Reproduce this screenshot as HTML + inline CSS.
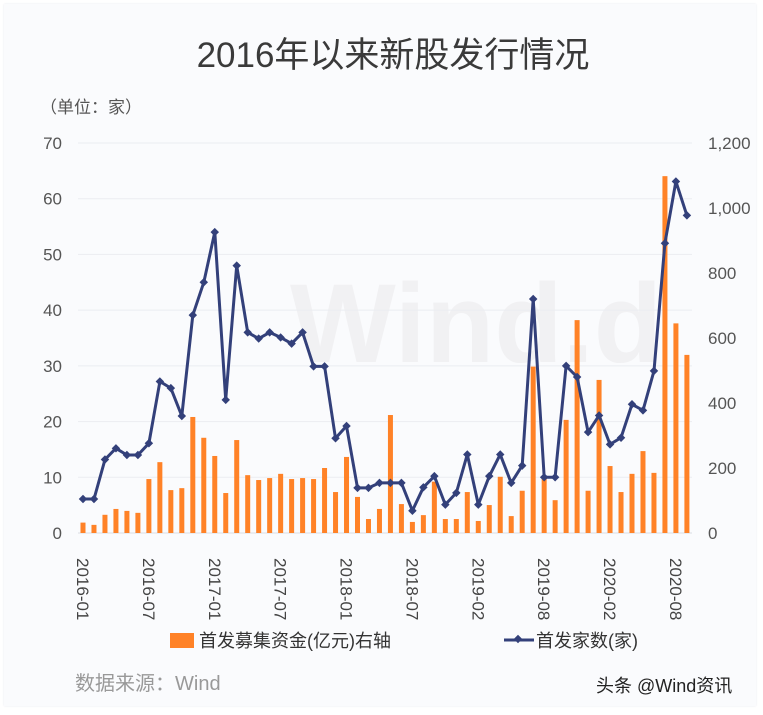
<!DOCTYPE html>
<html><head><meta charset="utf-8"><style>
html,body{margin:0;padding:0;background:#fff;}
body{width:763px;height:715px;position:relative;overflow:hidden;font-family:"Liberation Sans","Noto Sans CJK SC",sans-serif;}
.card{position:absolute;left:4px;top:4px;width:752px;height:702px;background:#fafbfd;box-shadow:0 0 2px #e6e8ee;}
</style></head><body>
<div class="card"></div>
<svg id="chart" width="763" height="715" style="position:absolute;left:0;top:0" font-family="Liberation Sans, Noto Sans CJK SC, sans-serif">
<text x="393" y="67" text-anchor="middle" font-size="35" fill="#3a3a3a">2016年以来新股发行情况</text>
<text x="40" y="113" font-size="17" fill="#555">（单位：家）</text>
<text x="290" y="362" font-size="112" font-weight="bold" fill="#f1f1f3">Wind.d</text>
<g id="grid"></g><g id="bars"></g><g id="line"></g><g id="axes"></g>
<rect x="170" y="633" width="24" height="15" fill="#ff8227"/>
<text x="199" y="647" font-size="18" fill="#333">首发募集资金(亿元)右轴</text>
<line x1="504" y1="640" x2="534" y2="640" stroke="#33407a" stroke-width="3"/>
<rect x="515" y="636" width="6" height="6" fill="#33407a" transform="rotate(45 518 639)"/>
<text x="536" y="647" font-size="18" fill="#333">首发家数(家)</text>
<text x="75" y="690" font-size="20" fill="#999">数据来源：Wind</text>
<text x="596" y="692" font-size="18" fill="#222">头条 @Wind资讯</text>
</svg>
<script>
const tickLabels=["2016-01","2016-07","2017-01","2017-07","2018-01","2018-07","2019-02","2019-08","2020-02","2020-08"];
const leftTicks=[0,10,20,30,40,50,60,70];
const rightTicks=["0","200","400","600","800","1,000","1,200"];
const ipoFunds=[32,25,56,74,68,62,166,218,132,138,357,293,237,123,286,178,163,169,182,166,169,166,200,126,234,111,43,74,363,89,34,55,158,43,43,126,37,86,173,52,130,512,172,101,348,655,130,471,206,126,182,252,185,1098,645,548];
const ipoCount=[6.1,6.1,13.2,15.2,14,14,16.1,27.2,26,21,39.1,45,54,23.9,48,36,34.9,36,35.1,34,36,29.9,29.9,17,19.2,8.1,8.1,9,9,9,4,8.2,10.2,5.1,7.2,14.1,5.1,10.2,14.1,9,12.1,42,10,10,30,28,18.1,21.1,15.9,17.1,23.1,22,29.1,52,63.1,57];
const NS="http://www.w3.org/2000/svg";
const X0=83,DX=10.98,Y0=533,YT=143;
const xPos=i=>X0+i*DX;
const yL=v=>Y0-(v/70)*(Y0-YT);
const yR=v=>Y0-(v/1200)*(Y0-YT);
function mk(tag,attrs,parent){const e=document.createElementNS(NS,tag);for(const k in attrs)e.setAttribute(k,attrs[k]);document.getElementById(parent).appendChild(e);return e;}
leftTicks.forEach(v=>{
  const g=mk('line',{x1:78,x2:692,y1:yL(v),y2:yL(v),stroke:v===0?'#d9dce3':'#ebedf1','stroke-width':1},'grid');
  
  
  const t=mk('text',{x:62,y:yL(v)+6,'text-anchor':'end','font-size':17,fill:'#555'},'axes');
  t.textContent=v;
  
  
});
rightTicks.forEach((s,i)=>{
  const t=mk('text',{x:708,y:yR(i*200)+6,'font-size':17,fill:'#555'},'axes');
  t.textContent=s;
  
  
});
ipoFunds.forEach((v,i)=>{
  const r=mk('rect',{x:xPos(i)-2.5,y:yR(v),width:5,height:Y0-yR(v),fill:'#ff8227'},'bars');
  
  
});
const pts=ipoCount.map((v,i)=>xPos(i).toFixed(1)+','+yL(v).toFixed(1)).join(' ');
const pl=mk('polyline',{points:pts,fill:'none',stroke:'#33407a','stroke-width':3,'stroke-linejoin':'round'},'line');


ipoCount.forEach((v,i)=>{
  const m=mk('rect',{x:xPos(i)-3,y:yL(v)-3,width:6,height:6,fill:'#33407a',transform:`rotate(45 ${xPos(i)} ${yL(v)})`},'line');
  
  
});
tickLabels.forEach((s,k)=>{
  const x=xPos(k*6);
  const t=mk('text',{x:0,y:0,'font-size':17,fill:'#444',transform:`translate(${x-6},${558}) rotate(90)`},'axes');
  t.textContent=s;
  
  
});
</script>
</body></html>
